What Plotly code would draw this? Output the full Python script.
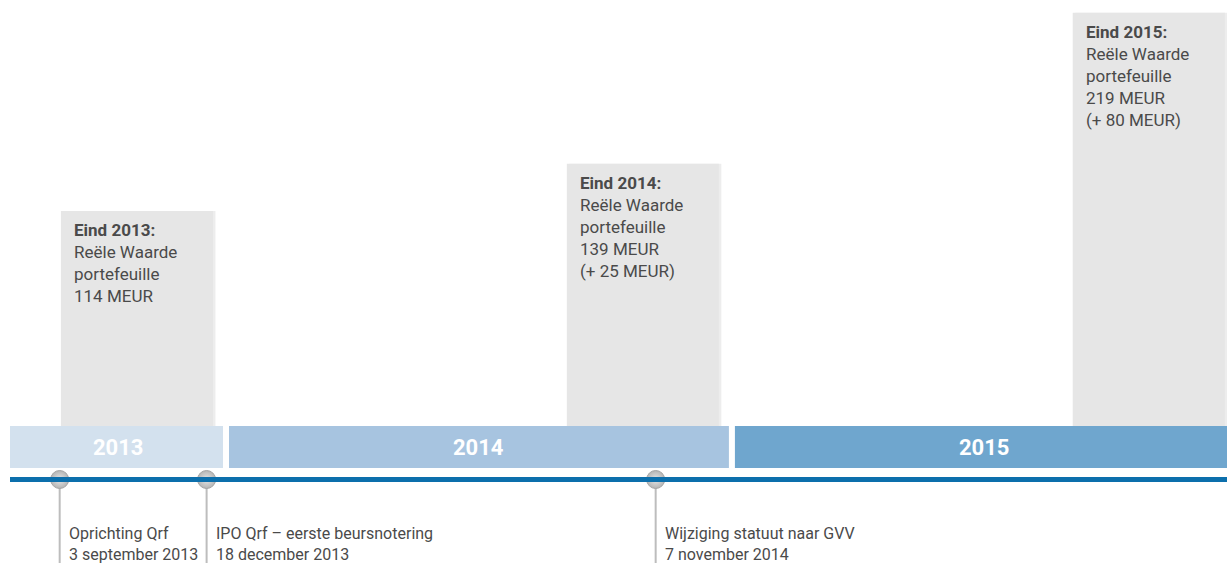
import pandas as pd
import plotly.graph_objects as go

# ---- data ----
years = ["2013", "2014", "2015"]
portfolio_meur = [114, 139, 219]
box_heading = ["Eind 2013:", "Eind 2014:", "Eind 2015:"]
event_dates = ["2013-09-03", "2013-12-18", "2014-11-07"]
event_titles = ["Oprichting Qrf", "IPO Qrf – eerste beursnotering", "Wijziging statuut naar GVV"]
event_subtitles = ["3 september 2013", "18 december 2013", "7 november 2014"]

# ---- layout constants ----
W, H = 1227, 563
BAND_TOP_PX = 426
PX_PER_UNIT = 1.887
Y_MAX = BAND_TOP_PX / PX_PER_UNIT
Y_MIN = -(H - BAND_TOP_PX) / PX_PER_UNIT
BAND_BOTTOM = -42 / PX_PER_UNIT
LINE_Y = -(479.5 - BAND_TOP_PX) / PX_PER_UNIT
TEXT_TOP = -(521.5 - BAND_TOP_PX) / PX_PER_UNIT

DAY = pd.Timedelta(days=1)
ref = pd.Timestamp("2014-01-01")
x_start = ref - 155.84 * DAY
x_end = ref + 722.2 * DAY
MS_DAY = 86400000
BOX_W_DAYS = 109.7
BOX_GAP_DAYS = 9.4

band_colors = ["#d3e1ee", "#a7c4e0", "#6fa6ce"]
box_color = "#e6e6e6"
text_color = "#4a4a4a"
FONT = "Roboto, Arial, sans-serif"

fig = go.Figure()

year_ends = [pd.Timestamp(f"{int(y) + 1}-01-01") for y in years]

# shadow of boxes
fig.add_trace(go.Bar(
    x=year_ends, y=portfolio_meur,
    offset=-(BOX_GAP_DAYS + BOX_W_DAYS - 1.8) * MS_DAY,
    width=BOX_W_DAYS * MS_DAY,
    marker=dict(color="rgba(0,0,0,0.07)", line=dict(width=0)),
    hoverinfo="skip",
))
# boxes
fig.add_trace(go.Bar(
    x=year_ends, y=portfolio_meur,
    offset=-(BOX_GAP_DAYS + BOX_W_DAYS) * MS_DAY,
    width=BOX_W_DAYS * MS_DAY,
    marker=dict(color=box_color, line=dict(width=0)),
    hoverinfo="skip",
))

shapes = []
annotations = []

# year bands
for i, y in enumerate(years):
    start = max(pd.Timestamp(f"{y}-01-01"), x_start)
    end = pd.Timestamp(f"{int(y) + 1}-01-01")
    shapes.append(dict(type="rect", xref="x", yref="y", x0=start, x1=end,
                       y0=BAND_BOTTOM, y1=0, fillcolor=band_colors[i],
                       line=dict(width=0), layer="above"))
    mid = start + (end - start) / 2
    annotations.append(dict(x=mid, y=BAND_BOTTOM / 2, xref="x", yref="y",
                            text=f"<b>{y}</b>", showarrow=False,
                            font=dict(family=FONT, size=22, color="white")))
    if i > 0:
        shapes.append(dict(type="line", xref="x", yref="y", x0=start, x1=start,
                           y0=BAND_BOTTOM, y1=0,
                           line=dict(color="white", width=6), layer="above"))

# blue timeline
shapes.append(dict(type="line", xref="paper", yref="y", x0=0, x1=1,
                   y0=LINE_Y, y1=LINE_Y, line=dict(color="#0c6fac", width=5),
                   layer="above"))

# box texts
prev = None
for i, y in enumerate(years):
    lines = [f"<b>{box_heading[i]}</b>", "Reële Waarde", "portefeuille",
             f"{portfolio_meur[i]} MEUR"]
    if prev is not None:
        lines.append(f"(+ {portfolio_meur[i] - prev} MEUR)")
    prev = portfolio_meur[i]
    left = year_ends[i] - (BOX_GAP_DAYS + BOX_W_DAYS) * DAY
    annotations.append(dict(x=left, y=portfolio_meur[i], xref="x", yref="y",
                            xanchor="left", yanchor="top", xshift=11, yshift=-7,
                            align="left", showarrow=False, text="<br>".join(lines),
                            font=dict(family=FONT, size=17, color=text_color)))

# event stems
for d in event_dates:
    fig.add_trace(go.Scatter(x=[d, d], y=[LINE_Y, Y_MIN], mode="lines",
                             line=dict(color="#bdbdbd", width=2), hoverinfo="skip"))
# event markers
fig.add_trace(go.Scatter(
    x=event_dates, y=[LINE_Y] * len(event_dates), mode="markers",
    marker=dict(size=18, color="#b5b5b5",
                gradient=dict(type="radial", color="#e6e6e6"),
                line=dict(color="#a5a5a5", width=1)),
    hoverinfo="skip", cliponaxis=False,
))

for d, t, s in zip(event_dates, event_titles, event_subtitles):
    annotations.append(dict(x=d, y=TEXT_TOP, xref="x", yref="y",
                            xanchor="left", yanchor="top", xshift=7,
                            align="left", showarrow=False, text=f"{t}<br>{s}",
                            font=dict(family=FONT, size=16, color=text_color)))

fig.update_layout(
    width=W, height=H,
    margin=dict(l=10, r=0, t=0, b=0),
    paper_bgcolor="white", plot_bgcolor="white",
    showlegend=False, barmode="overlay",
    shapes=shapes, annotations=annotations,
    xaxis=dict(type="date", range=[x_start, x_end], visible=False, fixedrange=True),
    yaxis=dict(range=[Y_MIN, Y_MAX], visible=False, fixedrange=True),
)

fig.write_html("out.html", config={"displayModeBar": False},
               post_script="document.body.style.margin='0';document.body.style.overflow='hidden';")
